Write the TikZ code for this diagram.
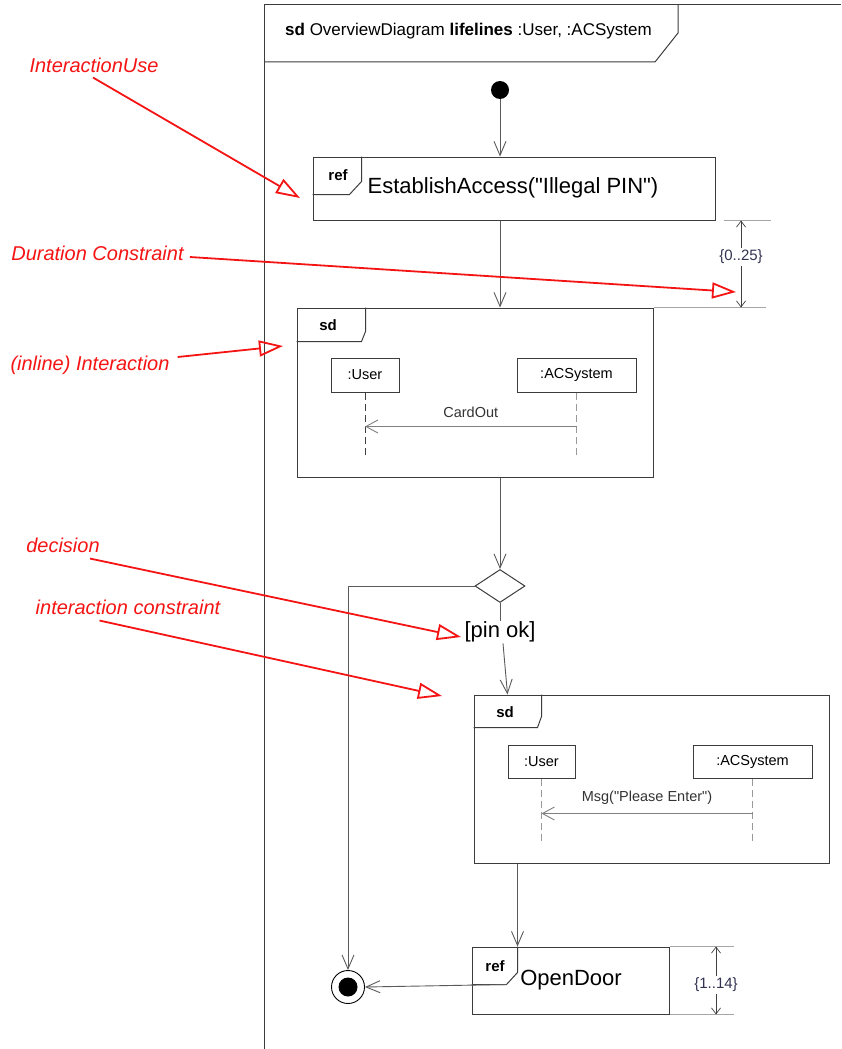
\documentclass[tikz,border=0pt]{standalone}
\usepackage{fontspec}
\setmainfont{Liberation Sans}
\usetikzlibrary{arrows.meta,calc,shapes.geometric}
\definecolor{lineC}{RGB}{60,60,60}
\definecolor{flowC}{RGB}{90,90,90}
\definecolor{durC}{RGB}{50,50,80}
\definecolor{annoC}{RGB}{245,20,20}
\newcommand{\fs}[1]{\fontsize{#1}{#1}\selectfont}
\newcommand{\dq}{\textquotedbl}
\tikzset{
  box/.style={draw=lineC, line width=1pt, inner sep=0pt, fill=white},
  lbox/.style={box, minimum height=34pt},
  tag/.style={draw=lineC, line width=1pt},
  flow/.style={draw=flowC, line width=0.9pt, -{Straight Barb[length=14pt,width=12pt,line width=0.9pt]}},
  msg/.style={draw=gray, line width=0.9pt, -{Straight Barb[length=12pt,width=13pt,line width=0.9pt]}},
  life/.style={draw=gray!80!black, line width=0.9pt, dash pattern=on 7pt off 4pt},
  durline/.style={draw=gray!70, line width=0.9pt},
  dur/.style={draw=gray!50!black, line width=0.7pt, -{Straight Barb[length=6pt,width=9pt,line width=0.7pt]}},
  anno/.style={draw=annoC, line width=1.8pt, -{Triangle[open,length=24pt,width=16pt,line width=1.8pt]}},
  annotext/.style={text=annoC, font=\fs{20}\itshape, inner sep=1pt},
  small/.style={font=\fs{14.5}},
  big/.style={font=\fs{22}},
}
\begin{document}
\begin{tikzpicture}[x=1pt,y=-1pt]
\useasboundingbox (0,0) rectangle (841,1049);
% main frame
\draw[lineC, line width=1pt] (264,1049) -- (264,5) -- (841,5);
\draw[lineC, line width=1pt] (264,62) -- (655,62) -- (678,33) -- (678,5);
\node[anchor=west, font=\fs{17}, inner sep=0pt] (hdr) at (285,31) {\textbf{sd} OverviewDiagram \textbf{lifelines} :User, :ACSystem};

% initial node
\node[circle, fill=black, minimum size=18pt, inner sep=0pt] (init) at (500,90) {};

% ref EstablishAccess
\node[box, big, minimum width=402pt, minimum height=63pt] (ref1) at (514,188.5) {};
\node[big, inner sep=0pt] (ref1txt) at (513,188) {EstablishAccess(\dq Illegal PIN\dq)};
\draw[tag] ($(ref1.north west)+(49,0)$) -- ($(ref1.north west)+(49,25)$) -- ($(ref1.north west)+(37,38)$) -- ($(ref1.north west)+(0,38)$);
\node[font=\fs{15}\bfseries, inner sep=0pt] (ref1t) at (338,175) {ref};

% sd 1
\node[box, minimum width=356pt, minimum height=169pt] (sd1) at (475,392.5) {};
\draw[tag] ($(sd1.north west)+(69,0)$) -- ($(sd1.north west)+(69,24)$) -- ($(sd1.north west)+(65,34)$) -- ($(sd1.north west)+(0,34)$);
\node[font=\fs{15}\bfseries, inner sep=0pt] (sd1t) at (328,325) {sd};
\node[lbox, small, minimum width=68pt] (u1) at (365,375) {:User};
\node[lbox, small, minimum width=119pt] (a1) at (576.5,375) {:ACSystem};
\coordinate (u1end) at (365,455);
\coordinate (a1end) at (576.5,455);
\draw[life, draw=black!75] (u1.south) -- (u1end);
\draw[life, draw=gray!80] (a1.south) -- (a1end);
\draw[msg] ($(a1.south)+(0,34)$) -- node[above=5pt, small, text=black!80] (m1) {CardOut} ($(u1.south)+(0,34)$);

% decision
\node[diamond, draw=lineC, line width=1pt, minimum width=50pt, minimum height=33pt, inner sep=0pt] (dec) at (500,586) {};
\node[big, inner sep=1pt] (guard) at (500,632) {[pin ok]};

% sd 2
\node[box, minimum width=355pt, minimum height=168pt] (sd2) at (651.5,779) {};
\draw[tag] ($(sd2.north west)+(68,0)$) -- ($(sd2.north west)+(68,22)$) -- ($(sd2.north west)+(64,33)$) -- ($(sd2.north west)+(0,33)$);
\node[font=\fs{15}\bfseries, inner sep=0pt] (sd2t) at (505,712) {sd};
\node[lbox, small, minimum width=67pt, minimum height=33pt] (u2) at (541.5,761.5) {:User};
\node[lbox, small, minimum width=119pt, minimum height=33pt] (a2) at (752.5,761.5) {:ACSystem};
\coordinate (u2end) at (541.5,843);
\coordinate (a2end) at (752.5,843);
\draw[life, draw=gray!80] (u2.south) -- (u2end);
\draw[life, draw=gray!80] (a2.south) -- (a2end);
\draw[msg] ($(a2.south)+(0,35)$) -- node[above=5pt, small, text=black!80] (m2) {Msg(\dq Please Enter\dq)} ($(u2.south)+(0,35)$);

% ref OpenDoor
\node[box, big, minimum width=197pt, minimum height=67pt] (ref2) at (570.5,980.5) {};
\node[big, inner sep=0pt] (ref2txt) at (571,980) {OpenDoor};
\draw[tag] ($(ref2.north west)+(46,0)$) -- ($(ref2.north west)+(46,26)$) -- ($(ref2.north west)+(35,38)$) -- ($(ref2.north west)+(0,38)$);
\coordinate (ref2c) at ($(ref2.north west)+(35,38)$);
\node[font=\fs{15}\bfseries, inner sep=0pt] (ref2t) at (495,966) {ref};

% final node
\node[circle, draw=black, line width=0.9pt, minimum size=33pt, inner sep=0pt, fill=white] (fin) at (348,987) {};
\fill[black] (fin.center) circle (9.5pt);

% control flow
\draw[flow] (init.south) -- (init |- ref1.north);
\draw[flow] (ref1.south -| init) -- (sd1.north -| init);
\draw[flow] (sd1.south -| dec) -- (dec.north);
\draw[flow] (dec.west) -| (fin.north);
\draw[draw=flowC, line width=0.9pt] (dec.south) -- (guard.north);
\draw[flow] ($(guard.south)+(3,0)$) -- ($(sd2.north west)+(34,0)$);
\draw[flow] ($(sd2.south west)+(44,0)$) -- ($(ref2.north west)+(46,0)$);
\draw[flow] (ref2c) -- (fin.east);

% duration constraint 1
\draw[durline] ($(ref1.south east)+(8,0)$) -- ($(ref1.south east)+(55,0)$);
\draw[durline] (sd1.north east) -- ($(sd1.north east)+(112,0)$);
\node[font=\fs{15}, text=durC, inner sep=2pt] (d1) at (741,257) {\{0..25\}};
\draw[dur] (d1.north) -- (d1.north |- ref1.south);
\draw[dur] (d1.south) -- (d1.south |- sd1.north);

% duration constraint 2
\draw[durline] (ref2.north east) -- ($(ref2.north east)+(64,0)$);
\draw[durline] (ref2.south east) -- ($(ref2.south east)+(64,0)$);
\node[font=\fs{15}, text=durC, inner sep=2pt] (d2) at (716,985) {\{1..14\}};
\draw[dur] (d2.north) -- (d2.north |- ref2.north);
\draw[dur] (d2.south) -- (d2.south |- ref2.south);

% annotations
\node[annotext] (iu) at (94,65) {InteractionUse};
\coordinate (tipIU) at (300,198);
\draw[anno] ($(iu.south)+(-1,4)$) -- (tipIU);

\node[annotext] (dc) at (97.5,253) {Duration Constraint};
\coordinate (tipDC) at (736,292);
\draw[anno] ($(dc.east)+(5,4)$) -- (tipDC);

\node[annotext] (inl) at (90,365) {(inline) Interaction};
\coordinate (tipIN) at (283,346);
\draw[anno] ($(inl.east)+(7,-8)$) -- (tipIN);

\node[annotext] (dtx) at (63,545) {decision};
\coordinate (tipDE) at (461,637);
\draw[anno] ($(dtx.south)+(27,5)$) -- (tipDE);

\node[annotext] (ic) at (128,607) {interaction constraint};
\coordinate (tipIC) at (442,696);
\draw[anno] ($(ic.south west)+(65,5)$) -- (tipIC);
\end{tikzpicture}
\end{document}
